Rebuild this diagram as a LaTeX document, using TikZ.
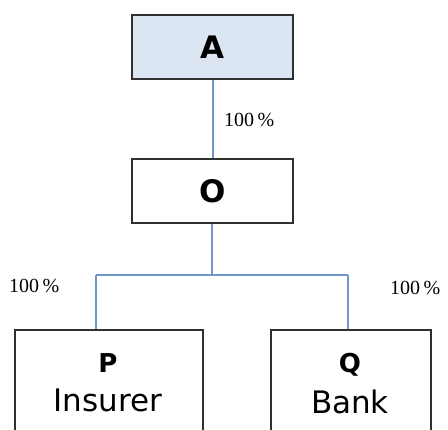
\documentclass[tikz,border=0pt]{standalone}
\usepackage{fontspec}
\setmainfont{DejaVu Sans}
\newfontfamily\pctfont{Liberation Serif}
\definecolor{linkblue}{HTML}{7096CF}
\definecolor{boxline}{HTML}{303030}
\definecolor{topfill}{HTML}{DCE6F2}
\begin{document}
\begin{tikzpicture}[x=1pt,y=-1pt,
  box/.style={draw=boxline,line width=2.2pt,rectangle,inner sep=0pt,fill=white},
  link/.style={draw=linkblue,line width=1.8pt},
  pct/.style={font=\pctfont\fontsize{20}{20}\selectfont,inner sep=0pt},
  title/.style={font=\bfseries\fontsize{31}{31}\selectfont,inner sep=0pt},
  sub/.style={font=\fontsize{31}{31}\selectfont,inner sep=0pt}]
\useasboundingbox (0,0) rectangle (448,430);
\clip (0,0) rectangle (448,430);
% top holding
\node[box,fill=topfill,minimum width=161pt,minimum height=64pt,anchor=north west] (A) at (131,14) {};
\node[title] at (A.center) {A};
\node[box,minimum width=161pt,minimum height=64pt,anchor=north west] (O) at (131,158) {};
\node[title] at (O.center) {O};
% subsidiaries, cut off at the lower edge
\node[box,minimum width=188pt,minimum height=140pt,anchor=north west] (P) at (14,329) {};
\node[box,minimum width=160pt,minimum height=140pt,anchor=north west] (Q) at (270,329) {};
\node[font=\bfseries\fontsize{26}{26}\selectfont,inner sep=0pt,anchor=base] (Pt) at (108,373) {P};
\node[sub,anchor=base] (Pn) at (108,412) {Insurer};
\node[font=\bfseries\fontsize{26}{26}\selectfont,inner sep=0pt,anchor=base] (Qt) at (350,373) {Q};
\node[sub,anchor=base] (Qn) at (350,414) {Bank};
% ownership links
\coordinate (split) at (212,275);
\draw[link] (A.south -| 213,0) -- (O.north -| 213,0);
\draw[link] (O.south -| split) -- (split);
\draw[link] (96,275) -- (348,275);
\draw[link] (96,275) -- (P.north -| 96,0);
\draw[link] (348,275) -- (Q.north -| 348,0);
\node[pct,anchor=west] (l1) at (224,120) {100\,\%};
\node[pct,anchor=west] (l2) at (9,286) {100\,\%};
\node[pct,anchor=west] (l3) at (390,288) {100\,\%};
\end{tikzpicture}
\end{document}
